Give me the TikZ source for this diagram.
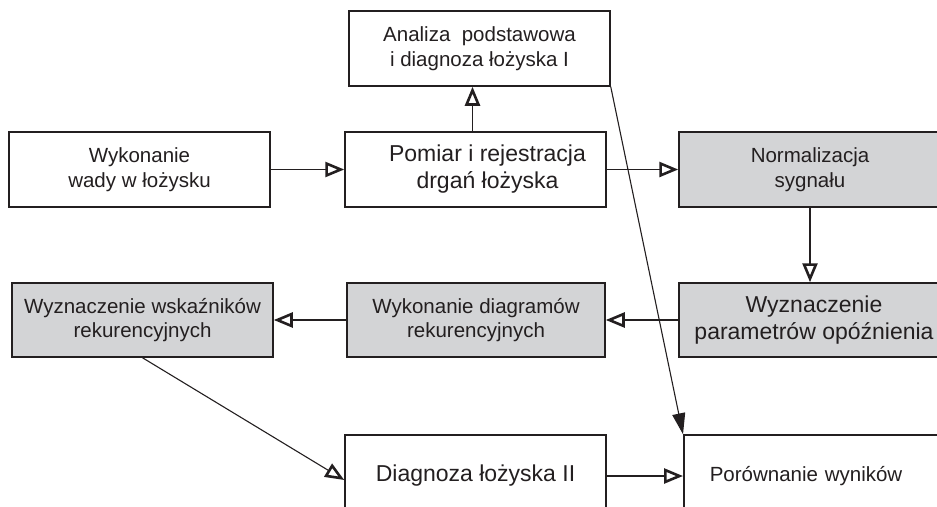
\documentclass[tikz,border=0pt]{standalone}
\usepackage{fontspec}
\setmainfont{Liberation Sans}
\usepackage{tikz}
\usetikzlibrary{arrows.meta}
\definecolor{flow-line}{HTML}{231F20}
\definecolor{flow-grey}{HTML}{D3D4D6}
\newcommand{\txtnorm}{\fontsize{20.5}{24.5}\selectfont}
\newcommand{\txtbig}{\fontsize{23}{27}\selectfont}

\begin{document}
\begin{tikzpicture}[
  x=1pt, y=-1pt,
  every node/.style={align=center},
  stepbox/.style={rectangle, draw=flow-line, line width=1.5pt, fill=white, text=flow-line, inner sep=0pt, minimum width=261pt, minimum height=75pt, font=\txtnorm},
  greybox/.style={stepbox, fill=flow-grey},
  arrow/.style={draw=flow-line, line width=1.4pt, -{Triangle[open, length=19pt, width=15pt, line width=2.6pt]}},
  link/.style={draw=flow-line, line width=1.1pt, -{Triangle[length=21pt, width=13pt]}}
]
  \useasboundingbox (0,0) rectangle (937,506);
  \clip (0,0) rectangle (937,506);

  % top row
  \node[stepbox] (analiza) at (479.5,48.5) {Analiza\ \ podstawowa\\i diagnoza łożyska I};
  \node[stepbox] (wada) at (139.5,169.5) {Wykonanie\\wady w łożysku};
  \node[stepbox, font=\txtbig] (pomiar) at (475.5,169.5) {\hspace*{24pt}Pomiar i rejestracja\\\hspace*{24pt}drgań łożyska};
  \node[greybox, minimum width=262pt] (norm) at (810,169.5) {Normalizacja\\sygnału};

  % middle row
  \node[greybox, minimum height=74pt] (wskaz) at (142.5,320) {Wyznaczenie wskaźników\\rekurencyjnych};
  \node[greybox, minimum width=258pt, minimum height=74pt] (diagr) at (476,320) {Wykonanie diagramów\\rekurencyjnych};
  \node[greybox, minimum width=270pt, minimum height=74pt, font=\txtbig] (param) at (814,320) {Wyznaczenie\\parametrów opóźnienia};

  % bottom row
  \node[stepbox, minimum height=82pt, font=\txtbig] (diag2) at (475.5,476) {\raisebox{5pt}{Diagnoza łożyska II}};
  \node[stepbox, anchor=west, text width=231pt, align=left, inner xsep=26pt, minimum height=82pt] (wyniki) at (683,476) {Porównanie wyników};

  \draw[arrow] (wada.east) -- (pomiar.west);
  \draw[arrow] (pomiar.east) -- (norm.west);
  \draw[arrow] ([xshift=-3pt]pomiar.north) -- ([xshift=-3pt]pomiar.north |- analiza.south);
  \draw[arrow] (norm.south) -- (norm.south |- param.north);
  \draw[arrow] (param.west) -- (diagr.east);
  \draw[arrow] (diagr.west) -- (wskaz.east);
  \draw[arrow, line width=1.1pt] (wskaz.south) -- ([yshift=-4pt]diag2.west);
  \draw[arrow] (diag2.east) -- (wyniki.west);
  \draw[link] (analiza.south east) -- (wyniki.north west);
\end{tikzpicture}
\end{document}
